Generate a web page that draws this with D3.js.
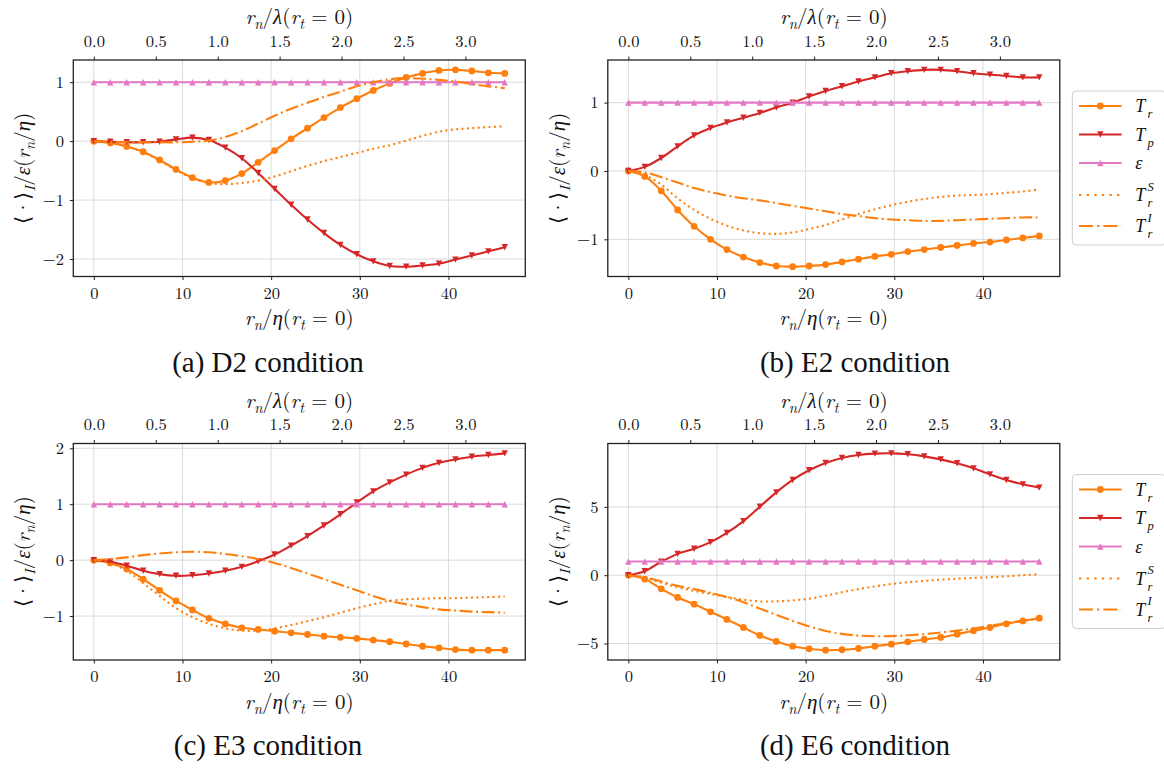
<!DOCTYPE html>
<html><head><meta charset="utf-8">
<script src="https://cdn.jsdelivr.net/npm/d3@7"></script>
<style>html,body{margin:0;padding:0;background:#fff;} svg{display:block}</style>
</head><body>
<svg id="chart" width="1164" height="771"></svg>
<script>
// ---------------- DATA ----------------
const etaPoints = [0, 1.85, 3.71, 5.56, 7.42, 9.27, 11.12, 12.98, 14.83, 16.69, 18.54, 20.39, 22.25, 24.10, 25.96, 27.81, 29.66, 31.52, 33.37, 35.23, 37.08, 38.93, 40.79, 42.64, 44.50, 46.35];
const etaPerLambda = 13.97;
const bottomTicks = [0, 10, 20, 30, 40];
const topTicks = [0, 0.5, 1.0, 1.5, 2.0, 2.5, 3.0];
const captions = ['(a) D2 condition', '(b) E2 condition', '(c) E3 condition', '(d) E6 condition'];
const yTicksD2 = [-2, -1, 0, 1];
const yTicksE2 = [-1, 0, 1];
const yTicksE3 = [-1, 0, 1, 2];
const yTicksE6 = [-5, 0, 5];
const seriesNames = ['Tr', 'Tp', 'eps', 'TrS', 'TrI'];

const epsilon = [1,1,1,1,1,1,1,1,1,1,1,1,1,1,1,1,1,1,1,1,1,1,1,1,1,1];

const d2Tr  = [0, -0.03, -0.09, -0.18, -0.32, -0.48, -0.62, -0.70, -0.67, -0.55, -0.36, -0.16, 0.04, 0.22, 0.40, 0.57, 0.72, 0.86, 0.98, 1.08, 1.15, 1.20, 1.21, 1.19, 1.16, 1.15];
const d2Tp  = [0, -0.01, -0.02, -0.02, -0.01, 0.03, 0.06, 0.02, -0.11, -0.29, -0.54, -0.81, -1.08, -1.33, -1.56, -1.76, -1.92, -2.04, -2.12, -2.13, -2.11, -2.08, -2.01, -1.94, -1.87, -1.80];
const d2TrS = [0, -0.03, -0.09, -0.19, -0.33, -0.49, -0.63, -0.71, -0.73, -0.71, -0.67, -0.60, -0.51, -0.42, -0.34, -0.27, -0.20, -0.13, -0.07, 0.01, 0.09, 0.16, 0.20, 0.22, 0.24, 0.25];
const d2TrI = [0, -0.01, -0.02, -0.02, -0.02, -0.02, -0.01, 0.01, 0.07, 0.17, 0.30, 0.43, 0.55, 0.65, 0.75, 0.84, 0.93, 1.00, 1.05, 1.07, 1.06, 1.04, 1.01, 0.97, 0.93, 0.90];

const e2Tr  = [0, -0.08, -0.29, -0.57, -0.81, -1.00, -1.15, -1.26, -1.34, -1.39, -1.40, -1.39, -1.37, -1.33, -1.29, -1.25, -1.22, -1.18, -1.15, -1.12, -1.09, -1.06, -1.04, -1.01, -0.98, -0.95];
const e2Tp  = [0, 0.06, 0.19, 0.36, 0.52, 0.63, 0.71, 0.78, 0.85, 0.93, 1.00, 1.09, 1.17, 1.24, 1.31, 1.37, 1.43, 1.46, 1.48, 1.48, 1.46, 1.43, 1.41, 1.39, 1.37, 1.37];
const e2TrS = [0, -0.06, -0.20, -0.40, -0.57, -0.70, -0.80, -0.87, -0.91, -0.92, -0.90, -0.85, -0.79, -0.71, -0.63, -0.56, -0.50, -0.45, -0.41, -0.38, -0.36, -0.35, -0.34, -0.32, -0.30, -0.27];
const e2TrI = [0, -0.02, -0.09, -0.17, -0.25, -0.31, -0.36, -0.40, -0.43, -0.47, -0.51, -0.55, -0.59, -0.63, -0.66, -0.69, -0.71, -0.72, -0.73, -0.73, -0.72, -0.71, -0.70, -0.69, -0.68, -0.68];

const e3Tr  = [0, -0.05, -0.16, -0.34, -0.54, -0.73, -0.89, -1.04, -1.14, -1.21, -1.24, -1.27, -1.30, -1.33, -1.36, -1.38, -1.40, -1.43, -1.46, -1.50, -1.54, -1.57, -1.60, -1.61, -1.61, -1.61];
const e3Tp  = [0, -0.03, -0.10, -0.19, -0.25, -0.28, -0.27, -0.24, -0.19, -0.12, -0.02, 0.10, 0.26, 0.43, 0.62, 0.82, 1.03, 1.23, 1.39, 1.53, 1.65, 1.74, 1.80, 1.85, 1.88, 1.91];
const e3TrS = [0, -0.06, -0.19, -0.41, -0.64, -0.86, -1.02, -1.14, -1.22, -1.26, -1.26, -1.22, -1.16, -1.09, -1.02, -0.94, -0.86, -0.79, -0.73, -0.70, -0.69, -0.68, -0.68, -0.67, -0.66, -0.65];
const e3TrI = [0, 0.02, 0.05, 0.09, 0.12, 0.14, 0.15, 0.14, 0.11, 0.07, 0.02, -0.05, -0.14, -0.24, -0.34, -0.44, -0.54, -0.64, -0.73, -0.79, -0.84, -0.88, -0.90, -0.92, -0.93, -0.94];

const e6Tr  = [0, -0.29, -1.00, -1.63, -2.12, -2.68, -3.24, -3.83, -4.41, -4.85, -5.20, -5.39, -5.49, -5.46, -5.37, -5.20, -5.05, -4.88, -4.71, -4.56, -4.32, -4.07, -3.83, -3.56, -3.35, -3.15];
const e6Tp  = [0, 0.29, 0.98, 1.56, 1.93, 2.42, 3.10, 3.96, 5.01, 6.06, 6.97, 7.68, 8.21, 8.58, 8.80, 8.90, 8.92, 8.85, 8.70, 8.48, 8.19, 7.82, 7.38, 6.97, 6.65, 6.41];
const e6TrS = [0, -0.17, -0.55, -0.88, -1.15, -1.38, -1.60, -1.80, -1.92, -1.92, -1.85, -1.72, -1.50, -1.25, -1.02, -0.82, -0.65, -0.52, -0.42, -0.33, -0.26, -0.20, -0.15, -0.08, 0.00, 0.07];
const e6TrI = [0, -0.15, -0.46, -0.78, -1.02, -1.29, -1.60, -1.98, -2.45, -2.90, -3.35, -3.75, -4.08, -4.30, -4.42, -4.47, -4.46, -4.40, -4.32, -4.20, -4.06, -3.90, -3.70, -3.50, -3.34, -3.20];

// ---------------- STYLE / LAYOUT ----------------
const FONT = '"Latin Modern Roman", "Liberation Serif", serif';   // axes (LaTeX look)
const CAPFONT = 'Liberation Serif';                               // captions (Times look)
const styles = {
  Tr:  {color: '#ff7f0e', dash: null, marker: 'circle'},
  Tp:  {color: '#d62728', dash: null, marker: 'down'},
  eps: {color: '#e377c2', dash: null, marker: 'up'},
  TrS: {color: '#ff7f0e', dash: '2,3.4', marker: null},
  TrI: {color: '#ff7f0e', dash: '13,3.5,2,3.5', marker: null}
};
const legendDash = {TrS: '2.4,5.2', TrI: '14,4,2.4,4'};
const W = 452, H = 216.5;
const layout = [
  {left: 73.3, top: 60,    capX: 268, capY: 372, legend: false},
  {left: 607.8, top: 60,   capX: 855, capY: 372, legend: true},
  {left: 73.3, top: 443.5, capX: 268, capY: 755, legend: false},
  {left: 607.8, top: 443.5, capX: 855, capY: 755, legend: true}
];
const panelData = [
  {Tr: d2Tr, Tp: d2Tp, eps: epsilon, TrS: d2TrS, TrI: d2TrI, yTicks: yTicksD2},
  {Tr: e2Tr, Tp: e2Tp, eps: epsilon, TrS: e2TrS, TrI: e2TrI, yTicks: yTicksE2},
  {Tr: e3Tr, Tp: e3Tp, eps: epsilon, TrS: e3TrS, TrI: e3TrI, yTicks: yTicksE3},
  {Tr: e6Tr, Tp: e6Tp, eps: epsilon, TrS: e6TrS, TrI: e6TrI, yTicks: yTicksE6}
];

const svg = d3.select('#chart');

function mathText(parent, parts, size, opts) {
  const o = Object.assign({sub: 0.24, sup: -0.42, gap: 0, font: FONT}, opts || {});
  const t = parent.append('text').attr('font-family', o.font).attr('font-size', size)
    .attr('fill', '#111').style('white-space', 'pre');
  let shift = 0, prev = null;
  for (const p of parts) {
    const ts = t.append('tspan').text(p.s);
    if (p.it) ts.attr('font-style', 'italic');
    let target = 0, fs = size;
    if (p.sub) { target = size * o.sub; fs = size * 0.7; }
    if (p.sup) { target = size * o.sup; fs = size * 0.7; }
    ts.attr('font-size', fs);
    if (target !== shift) ts.attr('dy', target - shift);
    if (p.sub && o.gap) ts.attr('dx', o.gap);
    shift = target;
    if (p.stack && prev) ts.attr('dx', -prev.node().getComputedTextLength());
    prev = ts;
  }
  return t;
}
function centered(parent, parts, size, cx, baseline, rotate) {
  const g = parent.append('g');
  const inner = g.append('g');
  const t = mathText(inner, parts, size);
  const bb = t.node().getBBox();
  inner.attr('transform', `translate(${-bb.x - bb.width / 2},0)`);
  g.attr('transform', `translate(${cx},${baseline})` + (rotate ? ` rotate(${rotate})` : ''));
  return g;
}

const labelBottom = [{s:'r',it:1},{s:'n',it:1,sub:1},{s:'/'},{s:'η',it:1},{s:'('},{s:'r',it:1},{s:'t',it:1,sub:1},{s:' = 0)'}];
const labelTop = [{s:'r',it:1},{s:'n',it:1,sub:1},{s:'/'},{s:'λ',it:1},{s:'('},{s:'r',it:1},{s:'t',it:1,sub:1},{s:' = 0)'}];
const labelY = [{s:'⟨·⟩'},{s:'I',it:1,sub:1},{s:'/'},{s:'ε',it:1},{s:'('},{s:'r',it:1},{s:'n',it:1,sub:1},{s:'/'},{s:'η',it:1},{s:')'}];
const legendLabels = {
  Tr: [{s:'T',it:1},{s:'r',it:1,sub:1}],
  Tp: [{s:'T',it:1},{s:'p',it:1,sub:1}],
  eps: [{s:'ε',it:1}],
  TrS: [{s:'T',it:1},{s:'r',it:1,sub:1},{s:'S',it:1,sup:1,stack:1}],
  TrI: [{s:'T',it:1},{s:'r',it:1,sub:1},{s:'I',it:1,sup:1,stack:1}]
};

function drawMarker(g, type, color) {
  if (type === 'circle') {
    g.append('circle').attr('r', 3.4).attr('fill', color);
  } else if (type === 'down') {
    g.append('path').attr('d', 'M0,3.2L-3.2,-3.2L3.2,-3.2Z').attr('fill', color);
  } else if (type === 'up') {
    g.append('path').attr('d', 'M0,-3.2L-3.2,3.2L3.2,3.2Z').attr('fill', color);
  }
}

panelData.forEach((pd, pi) => {
  const L = layout[pi];
  const g = svg.append('g').attr('transform', `translate(${L.left},${L.top})`);
  const xMin = d3.min(etaPoints), xMax = d3.max(etaPoints);
  const xPad = (xMax - xMin) * 0.05;
  const x = d3.scaleLinear().domain([xMin - xPad, xMax + xPad]).range([0, W]);
  const xTop = d3.scaleLinear().domain(x.domain().map(v => v / etaPerLambda)).range([0, W]);
  const all = seriesNames.flatMap(n => pd[n]);
  const yMin = d3.min(all), yMax = d3.max(all), yPad = (yMax - yMin) * 0.05;
  const y = d3.scaleLinear().domain([yMin - yPad, yMax + yPad]).range([H, 0]);

  // grid
  const grid = g.append('g');
  grid.selectAll('.gx').data(bottomTicks).join('line')
    .attr('x1', d => x(d)).attr('x2', d => x(d)).attr('y1', 0).attr('y2', H)
    .attr('stroke', '#dadada').attr('stroke-width', 1);
  grid.selectAll('.gy').data(pd.yTicks).join('line')
    .attr('y1', d => y(d)).attr('y2', d => y(d)).attr('x1', 0).attr('x2', W)
    .attr('stroke', '#dadada').attr('stroke-width', 1);

  // series
  const line = d3.line().x(d => x(d[0])).y(d => y(d[1])).curve(d3.curveCatmullRom.alpha(0.5));
  seriesNames.forEach(n => {
    const st = styles[n];
    const pts = etaPoints.map((e, i) => [e, pd[n][i]]);
    const p = g.append('path').attr('d', line(pts)).attr('fill', 'none')
      .attr('stroke', st.color).attr('stroke-width', 2.1);
    if (st.dash) p.attr('stroke-dasharray', st.dash);
    if (st.marker) {
      pts.forEach(pt => {
        const mg = g.append('g').attr('transform', `translate(${x(pt[0])},${y(pt[1])})`);
        drawMarker(mg, st.marker, st.color);
      });
    }
  });

  // axes
  const styleAxis = a => {
    a.select('.domain').remove();
    a.attr('font-family', FONT).attr('font-size', 16.5);
    a.selectAll('.tick line').attr('stroke', '#222').attr('stroke-width', 1);
    a.selectAll('.tick text').attr('fill', '#111').attr('font-family', FONT);
  };
  g.append('g').attr('transform', `translate(0,${H})`)
    .call(d3.axisBottom(x).tickValues(bottomTicks).tickSize(3.5).tickPadding(7).tickFormat(d3.format('d')))
    .call(styleAxis);
  g.append('g')
    .call(d3.axisTop(xTop).tickValues(topTicks).tickSize(3.5).tickPadding(9.6).tickFormat(d3.format('.1f')))
    .call(styleAxis);
  g.append('g')
    .call(d3.axisLeft(y).tickValues(pd.yTicks).tickSize(3.5).tickPadding(5.9).tickFormat(d3.format('d')))
    .call(styleAxis);

  // spines
  g.append('rect').attr('x', 0).attr('y', 0).attr('width', W).attr('height', H)
    .attr('fill', 'none').attr('stroke', '#222').attr('stroke-width', 1.3);

  // axis titles
  centered(g, labelTop, 21, W / 2, -36);
  centered(g, labelBottom, 21, W / 2, H + 48.5);
  centered(g, labelY, 21, -43, H / 2, -90);

  // caption
  svg.append('text').attr('x', L.capX).attr('y', L.capY).attr('text-anchor', 'middle')
    .attr('font-family', CAPFONT).attr('font-size', 29).attr('fill', '#111').text(captions[pi]);

  // legend
  if (L.legend) {
    const lg = g.append('g').attr('transform', `translate(${W + 12.5},31)`);
    lg.append('rect').attr('x', 0).attr('y', 0).attr('width', 93).attr('height', 154)
      .attr('rx', 4).attr('fill', '#fff').attr('fill-opacity', 0.8)
      .attr('stroke', '#cfcfcf').attr('stroke-width', 1);
    const rowY = [15, 43.5, 72, 104, 135];
    seriesNames.forEach((n, i) => {
      const st = styles[n];
      const ly = rowY[i];
      const ln = lg.append('line').attr('x1', 6.7).attr('x2', 49.3).attr('y1', ly).attr('y2', ly)
        .attr('stroke', st.color).attr('stroke-width', 2.1);
      if (legendDash[n]) ln.attr('stroke-dasharray', legendDash[n]);
      if (st.marker) drawMarker(lg.append('g').attr('transform', `translate(28,${ly})`), st.marker, st.color);
      const tg = lg.append('g').attr('transform', `translate(63,${ly + 6})`);
      mathText(tg, legendLabels[n], 18, {sub: 0.34, sup: -0.56, gap: 2.2, font: CAPFONT});
    });
  }
});
</script>
</body></html>
